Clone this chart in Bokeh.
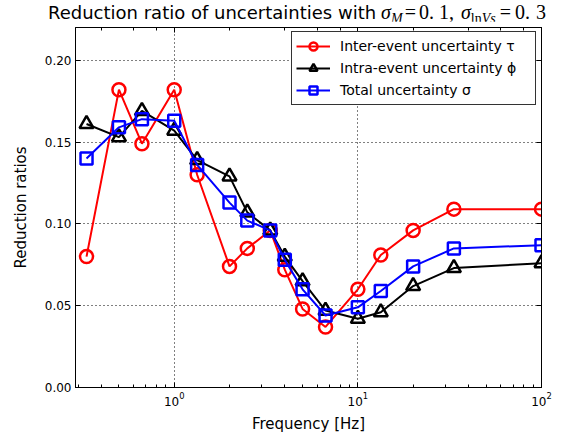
from bokeh.plotting import figure
from bokeh.layouts import column
from bokeh.models import (LogAxis, LinearAxis, Range1d, Legend, LegendItem, Div,
                          SingleIntervalTicker, PrintfTickFormatter, LogTicker, CustomJSTickFormatter)
from bokeh.embed import file_html
from bokeh.resources import INLINE

# ---- data ----
freq = [0.333, 0.5, 0.667, 1.0, 1.333, 2.0, 2.5, 3.333, 4.0, 5.0, 6.667, 10.0, 13.333, 20.0, 33.333, 100.0]
tau = [0.080, 0.182, 0.149, 0.182, 0.130, 0.074, 0.085, 0.096, 0.072, 0.048, 0.037, 0.060, 0.081, 0.096, 0.109, 0.109]
phi = [0.161, 0.153, 0.169, 0.157, 0.139, 0.129, 0.107, 0.096, 0.080, 0.065, 0.047, 0.042, 0.046, 0.062, 0.073, 0.076]
sigma = [0.140, 0.159, 0.164, 0.163, 0.136, 0.113, 0.102, 0.096, 0.078, 0.060, 0.044, 0.049, 0.059, 0.074, 0.085, 0.087]
labels = ["Inter-event uncertainty \u03c4", "Intra-event uncertainty \u03d5", "Total uncertainty \u03c3"]

FONT = "DejaVu Sans"
MATH = "Liberation Serif"

p = figure(frame_width=466, frame_height=360, x_axis_type="log",
           x_range=Range1d(0.29, 100), y_range=Range1d(0, 0.22),
           output_backend="svg", toolbar_location=None,
           min_border_left=75, min_border_right=29, min_border_top=6, min_border_bottom=42,
           background_fill_color="white", border_fill_color="white")
p.outline_line_color = "black"
p.outline_line_width = 1

# series
r1l = p.line(freq, tau, line_color="#ff0000", line_width=2)
r1m = p.scatter(freq, tau, marker="circle", size=13, line_color="#ff0000", line_width=2.5, fill_alpha=0)
r2l = p.line(freq, phi, line_color="black", line_width=2)
r2m = p.scatter(freq, phi, marker="triangle", size=14, line_color="black", line_width=2.5, fill_alpha=0)
r3l = p.line(freq, sigma, line_color="#0000ff", line_width=2)
r3m = p.scatter(freq, sigma, marker="square", size=12, line_color="#0000ff", line_width=2.5, fill_alpha=0)

# axes styling
xa = p.xaxis[0]
ya = p.yaxis[0]
for ax in (xa, ya):
    ax.major_tick_in = 5
    ax.major_tick_out = 0
    ax.minor_tick_in = 3
    ax.minor_tick_out = 0
    ax.axis_line_color = "black"
    ax.major_label_text_font = FONT
    ax.major_label_text_font_size = "12px"
    ax.major_label_text_color = "black"
    ax.axis_label_text_font = FONT
    ax.axis_label_text_font_size = "15px"
    ax.axis_label_text_font_style = "normal"
    ax.axis_label_text_color = "black"
    ax.major_label_standoff = 4
ya.minor_tick_in = 0
ya.ticker = SingleIntervalTicker(interval=0.05, num_minor_ticks=0)
ya.formatter = PrintfTickFormatter(format="%.2f")
xa.axis_label = "Frequency [Hz]"
ya.axis_label = "Reduction ratios"
xa.axis_label_standoff = 6
ya.axis_label_standoff = 12

blank = CustomJSTickFormatter(code="return '';")
top = LogAxis(ticker=LogTicker(), major_tick_in=5, major_tick_out=0, minor_tick_in=3, minor_tick_out=0,
              formatter=blank, axis_line_color="black", major_label_standoff=0)
right = LinearAxis(ticker=SingleIntervalTicker(interval=0.05, num_minor_ticks=0), major_tick_in=5, major_tick_out=0,
                   minor_tick_in=0, minor_tick_out=0, formatter=blank, axis_line_color="black",
                   major_label_standoff=0)
p.add_layout(top, "above")
p.add_layout(right, "right")

p.xgrid.grid_line_color = "black"
p.xgrid.grid_line_dash = "1 3"
p.xgrid.grid_line_width = 1
p.ygrid.grid_line_color = "black"
p.ygrid.grid_line_dash = "1 3"
p.ygrid.grid_line_width = 1
p.ygrid.ticker = SingleIntervalTicker(interval=0.05)

# legend
legend = Legend(items=[LegendItem(label=labels[0], renderers=[r1l, r1m]),
                       LegendItem(label=labels[1], renderers=[r2l, r2m]),
                       LegendItem(label=labels[2], renderers=[r3l, r3m])],
                location=(216, 282), orientation="vertical",
                label_text_font=FONT, label_text_font_size="14px", label_text_color="black",
                border_line_color="black", border_line_width=1, border_line_alpha=0.8,
                background_fill_color="white", background_fill_alpha=1,
                padding=4, margin=0, spacing=2, label_height=20, glyph_height=20, glyph_width=34,
                label_standoff=10, label_width=191)
p.add_layout(legend, "center")

# title with math-style subscripts
def span(txt, size, font, italic=False, ml=0, va=None):
    st = f"font-family:'{font}';font-size:{size}px;margin-left:{ml}px;"
    if italic:
        st += "font-style:italic;"
    if va is not None:
        st += f"vertical-align:{va}px;"
    return f"<span style=\"{st}\">{txt}</span>"

title_html = (
    span("Reduction ratio of uncertainties with", 18, FONT)
    + span("\u03c3", 20, MATH, True, 5)
    + span("M", 14, MATH, True, 0, -4)
    + span("=", 20, MATH, False, 2)
    + span("0.", 20, MATH, False, 3)
    + span("1,", 20, MATH, False, 5)
    + span("\u03c3", 20, MATH, True, 7)
    + span("ln", 14, MATH, False, 0, -4)
    + span("Vs", 14, MATH, True, 0, -4)
    + span("=", 20, MATH, False, 4)
    + span("0.", 20, MATH, False, 4)
    + span("3", 20, MATH, False, 6)
)
title = Div(text=title_html, width=578, height=21,
            styles={"padding-left": "48px", "padding-top": "2px", "white-space": "nowrap",
                    "line-height": "20px", "color": "black", "margin": "0"})

layout = column(title, p, spacing=0)
open("out.html", "w").write(file_html(layout, INLINE))
